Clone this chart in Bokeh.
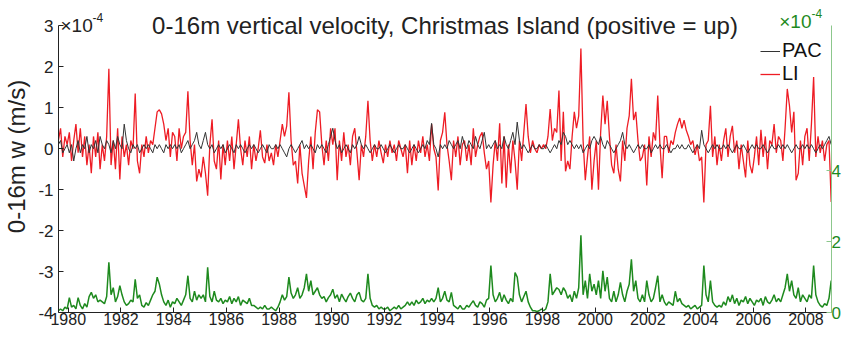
import numpy as np
from bokeh.plotting import figure
from bokeh.models import Range1d, LinearAxis, FixedTicker, Label, Legend
from bokeh.embed import file_html
from bokeh.resources import INLINE

# ---------------- data (monthly, Aug 1979 - Dec 2008), units 1e-4 m/s ----------------
START_YEAR = 1979
START_MONTH = 8

LI = [
    0.2, 0.5, -0.2, 0.3, 0.1,                                             # 1979 Aug-Dec
    0.4, -0.3, 0.2, 0.6, -0.1, 0.5, -0.2, 0.3, -0.4, 0.1, -0.6, 0.3,      # 1980
    -0.2, 0.4, -0.5, 0.1, -0.3, 0.3, 1.95, -0.4, 0.2, -0.5, 0.5, -0.75,   # 1981
    0.3, -0.2, 0.1, -0.4, 0.2, 0.0, 1.35, -0.3, -0.6, 0.1, -0.2, 0.3,     # 1982
    -0.1, 0.2, 0.1, 0.5, 0.9, 0.95, 0.85, 0.6, 0.2, 0.5, -0.2, 0.4,       # 1983
    0.3, -0.3, 0.5, 0.0, 0.3, 0.4, 1.4, 0.2, -0.4, 0.1, -0.8, -0.5,       # 1984
    -0.7, -0.2, -0.6, -1.15, 0.1, 0.72, -0.3, -0.5, 0.2, -0.75, 0.1, -0.4,  # 1985
    0.2, -0.3, 0.3, -0.5, 0.1, 0.72, 0.0, -0.4, 0.2, -0.2, 0.3, -0.5,     # 1986
    0.1, -0.3, 0.0, 0.45, -0.2, -0.35, 0.1, -0.3, -0.1, -0.4, 0.1, -0.2,  # 1987
    0.2, 0.6, 0.3, 0.55, 1.38, 0.2, -0.4, -0.3, -0.85, 0.1, -0.6, -0.9,   # 1988
    -1.2, -0.3, 0.3, -0.5, 0.4, 0.95, 0.9, 0.1, -0.4, 0.2, -0.3, 0.5,     # 1989
    0.1, 0.5, -0.77, 0.2, -0.3, 0.4, -0.2, 0.1, -0.4, 0.3, 0.5, -0.1,     # 1990
    -0.77, 0.1, -0.2, 0.3, 1.17, 0.2, -0.3, 0.1, -0.2, 0.2, -0.1, -0.35,  # 1991
    0.1, -0.2, 0.2, -0.1, 0.1, -0.3, 0.2, 0.0, -0.2, 0.1, -0.6, 0.2,      # 1992
    -0.4, 0.1, -0.3, 0.2, -0.1, 0.3, -0.2, 0.1, -0.3, 0.6, 0.0, -0.2,     # 1993
    -1.02, 0.2, 0.4, 0.89, 0.1, -0.3, -0.77, 0.2, -0.2, 0.3, -0.4, 0.1,   # 1994
    0.2, -0.3, 0.1, -0.4, 0.5, -0.2, 0.1, 0.3, 0.4, -0.1, -0.5, -0.3,     # 1995
    -1.31, -0.4, 0.2, -0.3, 0.62, -0.85, 0.3, -0.95, 0.1, -0.6, 0.2, -0.3,  # 1996
    -1.0, 0.2, -0.3, 0.4, 1.09, 0.3, -0.1, 0.2, 0.0, -0.1, 0.1, 0.0,      # 1997
    0.1, 0.0, 0.3, 0.97, 0.2, 0.5, 0.4, 1.42, -0.3, 0.9, -0.55, -0.3,     # 1998
    -0.5, 0.3, 0.9, 0.5, 0.8, 2.45, 0.2, -0.77, -0.2, 0.3, -1.0, -0.3,    # 1999
    0.2, -1.0, 0.4, 1.3, 0.6, 1.17, 0.3, -0.4, -0.6, 0.1, -0.5, -0.8,     # 2000
    0.2, -0.3, 0.5, 0.8, 1.71, 0.7, 0.9, 0.2, -0.3, -0.2, 0.1, -0.9,      # 2001
    0.3, -0.2, 0.4, 0.2, 1.3, 0.1, -0.72, 0.3, 0.3, -0.1, 0.2, 0.1,       # 2002
    0.4, 0.6, 0.75, 0.5, 0.7, 0.45, 0.3, 0.1, 0.2, -0.15, 0.1, -0.3,      # 2003
    -0.2, -1.31, 0.1, 0.2, 1.05, -0.2, 0.3, -0.4, 0.1, -0.3, 0.2, 0.5,    # 2004
    -0.2, 0.3, 0.56, -0.1, 0.2, -0.5, 0.1, -0.3, -0.7, 0.2, -0.4, -0.6,   # 2005
    -0.2, 0.3, -0.4, 0.46, -0.2, 0.3, -0.5, 0.2, 0.1, 0.6, -0.1, 0.3,     # 2006
    0.2, -0.3, 0.5, 1.46, 1.05, 0.4, 0.9, -0.77, -0.6, 0.2, -0.4, 0.3,    # 2007
    0.5, -0.3, 0.6, 1.75, -0.2, 0.3, -0.1, 0.2, -0.3, 0.1, 0.2, -1.3,     # 2008
]

PAC = [
    0.1, 0.2, -0.1, 0.0, 0.1,
    -0.1, 0.1, -0.3, 0.0, 0.2, -0.1, 0.1, 0.0, 0.3, -0.1, 0.1, 0.0,
    0.2, -0.1, 0.3, 0.1, 0.0, 0.2, 0.1, -0.1, 0.2, 0.0, 0.3, 0.1,
    0.0, 0.6, 0.2, 0.0, -0.1, 0.1, 0.0, 0.1, -0.1, 0.0, 0.1, 0.0,
    0.1, 0.0, -0.1, 0.1, 0.0, 0.1, 0.0, -0.1, 0.1, 0.0, 0.1, 0.0,
    0.1, 0.0, 0.1, -0.1, 0.0, 0.1, 0.2, 0.0, 0.1, 0.2, 0.4, 0.1,
    0.0, 0.2, 0.4, 0.1, 0.0, 0.1, -0.1, 0.0, 0.1, 0.0, 0.1, -0.1,
    0.0, 0.1, 0.0, -0.1, 0.1, 0.0, 0.1, 0.0, -0.1, 0.0, 0.1, 0.0,
    0.1, 0.0, -0.1, 0.0, 0.1, 0.0, -0.1, 0.1, 0.0, 0.0, 0.1, 0.0,
    0.1, 0.0, -0.1, -0.2, 0.0, 0.1, 0.0, -0.1, 0.0, 0.1, 0.2, 0.0,
    0.1, 0.0, 0.1, 0.0, -0.1, 0.1, 0.0, 0.1, 0.0, -0.1, 0.1, 0.3,
    0.5, 0.2, 0.0, 0.1, -0.1, 0.0, 0.1, 0.0, -0.1, 0.1, 0.0, 0.1,
    0.3, 0.1, 0.0, 0.1, 0.0, -0.1, 0.0, 0.1, 0.0, 0.0, 0.1, 0.0,
    -0.1, 0.0, 0.1, 0.0, -0.1, 0.0, 0.1, 0.0, 0.0, 0.1, 0.0, -0.1,
    0.0, 0.1, 0.0, -0.1, 0.0, 0.1, 0.0, 0.2, 0.1, 0.62, 0.1, 0.0,
    -0.2, 0.1, 0.0, 0.1, 0.0, 0.2, 0.1, 0.0, 0.1, 0.2, 0.0, 0.3,
    0.1, 0.0, 0.2, 0.1, 0.0, 0.3, 0.1, 0.0, 0.2, 0.4, 0.0, 0.1,
    0.0, 0.1, 0.2, 0.0, 0.1, 0.0, 0.3, 0.1, 0.0, 0.2, 0.4, 0.1,
    0.65, 0.2, 0.0, 0.1, 0.0, -0.1, 0.0, 0.1, 0.0, 0.0, 0.1, 0.0,
    0.0, 0.1, 0.0, -0.1, 0.0, 0.1, 0.0, 0.2, 0.1, 0.4, 0.3, 0.1,
    0.2, 0.1, 0.0, 0.1, 0.0, 0.1, -0.1, 0.0, 0.1, 0.0, 0.2, 0.3,
    0.2, 0.1, 0.3, 0.1, 0.0, 0.2, 0.1, 0.0, -0.1, 0.0, 0.1, 0.2,
    0.4, 0.1, 0.0, 0.1, 0.0, -0.1, 0.0, 0.1, 0.0, 0.1, 0.0, 0.0,
    0.1, -0.1, 0.0, 0.1, 0.0, 0.1, 0.0, 0.0, 0.1, 0.0, -0.1, 0.0,
    0.0, 0.1, 0.0, 0.1, 0.0, 0.0, 0.1, 0.0, -0.1, 0.0, 0.1, 0.0,
    0.45, 0.1, 0.0, -0.1, 0.0, 0.1, 0.0, 0.1, 0.0, 0.0, 0.1, 0.0,
    0.1, 0.0, -0.1, 0.0, 0.1, 0.0, 0.0, 0.1, 0.0, -0.1, 0.0, 0.1,
    0.0, 0.1, 0.0, 0.0, 0.1, 0.0, -0.1, 0.0, 0.1, 0.0, 0.0, 0.1,
    0.0, 0.1, 0.0, 0.1, 0.0, -0.1, 0.0, 0.1, 0.0, 0.0, 0.1, 0.0,
    0.1, 0.0, 0.1, 0.0, -0.1, 0.0, 0.1, 0.0, 0.1, 0.2, 0.3, 0.1,
]

# green series on right axis (units 1e-4)
GREEN = [
    0.05, 0.1, 0.05, 0.15, 0.1,
    0.42, 0.15, 0.2, 0.1, 0.42, 0.2, 0.1, 0.25, 0.15, 0.45, 0.57, 0.4,
    0.5, 0.3, 0.35, 0.3, 0.25, 0.45, 1.42, 0.5, 0.7, 0.3, 0.45, 0.76,
    0.5, 0.3, 0.2, 0.25, 0.35, 0.3, 0.94, 0.4, 0.5, 0.2, 0.15, 0.28,
    0.2, 0.35, 0.5, 0.6, 1.0, 0.8, 0.5, 0.3, 0.2, 0.35, 0.15, 0.3,
    0.25, 0.4, 0.3, 0.2, 0.35, 0.5, 1.04, 0.4, 0.3, 0.6, 0.35, 0.5,
    0.4, 0.5, 0.3, 1.28, 0.45, 0.3, 0.6, 0.35, 0.3, 0.4, 0.25, 0.35,
    0.3, 0.45, 0.25, 0.4, 0.3, 0.45, 0.2, 0.35, 0.3, 0.25, 0.4, 0.2,
    0.2, 0.15, 0.1, 0.15, 0.1, 0.2, 0.1, 0.1, 0.15, 0.1, 0.05, 0.15,
    0.3, 0.5, 0.35, 0.45, 1.0, 0.55, 0.4, 0.5, 0.7, 0.4, 0.5, 0.7,
    1.09, 0.6, 0.9, 0.5, 0.6, 0.7, 0.5, 0.4, 0.45, 0.3, 0.42, 0.5,
    0.66, 0.4, 0.5, 0.3, 0.52, 0.4, 0.3, 0.45, 0.55, 0.4, 0.3, 0.5,
    0.57, 0.35, 0.3, 0.4, 1.09, 0.4, 0.2, 0.15, 0.2, 0.1, 0.15, 0.1,
    0.1, 0.15, 0.05, 0.1, 0.15, 0.1, 0.2, 0.1, 0.15, 0.2, 0.3, 0.2,
    0.3, 0.2, 0.35, 0.25, 0.3, 0.4, 0.25, 0.35, 0.3, 0.4, 0.3, 0.4,
    0.7, 0.3, 0.4, 0.6, 0.35, 0.3, 0.57, 0.2, 0.15, 0.1, 0.2, 0.1,
    0.1, 0.2, 0.15, 0.25, 0.33, 0.2, 0.15, 0.3, 0.25, 0.15, 0.35, 0.4,
    1.33, 0.5, 0.3, 0.4, 0.57, 0.3, 0.5, 0.35, 0.25, 0.4, 0.3, 1.13,
    1.0, 0.5, 0.3, 0.45, 0.6, 0.3, 0.15, 0.05, 0.05, 0.03, 0.05, 0.1,
    0.05, 0.1, 0.3, 1.09, 0.5, 0.6, 0.7, 0.65, 0.5, 0.7, 0.6, 0.4,
    0.5, 0.3, 0.6, 0.4, 0.7, 2.18, 0.5, 0.9, 0.4, 1.09, 0.6, 0.8,
    0.5, 0.9, 0.4, 1.18, 0.6, 1.0, 0.4, 0.3, 0.6, 0.3, 0.5, 0.85,
    0.5, 0.3, 0.6, 0.8, 1.5, 0.6, 0.9, 0.4, 0.3, 0.5, 0.3, 0.9,
    0.5, 0.3, 0.4, 0.7, 1.04, 0.3, 0.5, 0.3, 0.2, 0.3, 0.25, 0.2,
    0.6, 0.3, 0.4, 0.25, 0.2, 0.15, 0.2, 0.1, 0.15, 0.2, 0.1, 0.15,
    0.2, 1.33, 0.5, 0.3, 0.9, 0.3, 0.2, 0.15, 0.2, 0.15, 0.3, 0.2,
    0.45, 0.3, 0.5, 0.25, 0.4, 0.2, 0.35, 0.3, 0.45, 0.25, 0.4, 0.3,
    0.2, 0.35, 0.3, 0.4, 0.2, 0.45, 0.3, 0.25, 0.35, 0.5, 0.3, 0.4,
    0.3, 0.5, 0.7, 1.09, 0.6, 0.9, 0.5, 0.4, 0.7, 0.3, 0.5, 0.4,
    0.3, 0.5, 0.4, 1.33, 0.5, 0.3, 0.2, 0.15, 0.25, 0.2, 0.4, 0.9,
]

YEAR_TICKS = [1980, 1982, 1984, 1986, 1988, 1990, 1992, 1994, 1996, 1998,
              2000, 2002, 2004, 2006, 2008]
LEFT_TICKS = [-4, -3, -2, -1, 0, 1, 2, 3]
RIGHT_TICKS = [0, 2, 4]

TITLE = "0-16m vertical velocity, Christmas Island (positive = up)"
YLABEL = "0-16m w (m/s)"

# ---------------- plot ----------------
FONT = "Liberation Sans"
GREEN_C = "#1e8a1e"
RED_C = "#ee1c24"
INK = "#222222"

n = len(LI)
t = START_YEAR + (START_MONTH - 0.5) / 12 + np.arange(n) / 12.0

X0, X1 = 1979.63, 2008.97
L_LO, L_HI = -4, 3          # left axis extent
R_LO, R_HI = 0, 8.1         # right axis extent
HEAD = 3.62                 # frame reaches above axis top to hold title text
R_HEAD = R_HI * (HEAD - L_LO) / (L_HI - L_LO)

p = figure(width=843, height=327, x_range=Range1d(X0, X1), y_range=Range1d(L_LO, HEAD),
           output_backend="svg", toolbar_location=None,
           min_border_left=0, min_border_right=0, min_border_top=0, min_border_bottom=0)
p.extra_y_ranges = {"g": Range1d(R_LO, R_HEAD)}

p.outline_line_color = None
p.xgrid.visible = False
p.ygrid.visible = False

r_li = p.line(t, LI, line_color=RED_C, line_width=1.3)
r_pac = p.line(t, PAC, line_color="#333333", line_width=1.0)
p.line(t, GREEN[:n], line_color=GREEN_C, line_width=1.5, y_range_name="g")

for ax in (p.xaxis[0], p.yaxis[0]):
    ax.major_label_text_font = FONT
    ax.major_label_text_color = INK
    ax.major_tick_in = 5
    ax.major_tick_out = 0
    ax.minor_tick_line_color = None
    ax.axis_line_color = INK
    ax.major_tick_line_color = INK

p.xaxis[0].ticker = FixedTicker(ticks=YEAR_TICKS)
p.xaxis[0].major_label_text_font_size = "16px"
p.xaxis[0].major_label_standoff = 0
p.xaxis[0].axis_label_standoff = 0
p.yaxis[0].ticker = FixedTicker(ticks=LEFT_TICKS)
p.yaxis[0].major_label_text_font_size = "17px"
p.yaxis[0].bounds = (L_LO, L_HI)
p.yaxis[0].major_label_overrides = {v: str(v) for v in LEFT_TICKS}
p.yaxis[0].major_label_standoff = 5
p.yaxis[0].axis_label = YLABEL
p.yaxis[0].axis_label_text_font = FONT
p.yaxis[0].axis_label_text_font_size = "24px"
p.yaxis[0].axis_label_text_font_style = "normal"
p.yaxis[0].axis_label_text_color = INK
p.yaxis[0].axis_label_standoff = 5

rax = LinearAxis(y_range_name="g", ticker=FixedTicker(ticks=RIGHT_TICKS), bounds=(R_LO, R_HI))
rax.major_label_text_font = FONT
rax.major_label_text_font_size = "17px"
rax.major_label_text_color = GREEN_C
rax.major_tick_in = 5
rax.major_tick_out = 0
rax.minor_tick_line_color = None
rax.axis_line_color = "#8cc78c"
rax.major_tick_line_color = "#8cc78c"
rax.major_label_standoff = 0
rax.axis_label_standoff = 0
p.add_layout(rax, "right")

# title
p.add_layout(Label(x=(X0 + X1) / 2, y=L_HI, y_offset=0, text=TITLE, text_font=FONT,
                   text_font_size="24px", text_color=INK, text_align="center",
                   text_baseline="alphabetic"))

# exponent labels
p.add_layout(Label(x=X0, y=L_HI, x_offset=2, y_offset=0, text="×10", text_font=FONT,
                   text_font_size="19px", text_color=INK, text_baseline="alphabetic"))
p.add_layout(Label(x=X0, y=L_HI, x_offset=34, y_offset=8, text="-4", text_font=FONT,
                   text_font_size="12px", text_color=INK, text_baseline="alphabetic"))
p.add_layout(Label(x=X1, y=R_HI, x_offset=-20, y_offset=4, text="×10", text_font=FONT,
                   text_font_size="19px", text_color=GREEN_C, text_baseline="alphabetic",
                   text_align="right", y_range_name="g"))
p.add_layout(Label(x=X1, y=R_HI, x_offset=-20, y_offset=12, text="-4", text_font=FONT,
                   text_font_size="12px", text_color=GREEN_C, text_baseline="alphabetic",
                   y_range_name="g"))

legend = Legend(items=[("PAC", [r_pac]), ("LI", [r_li])], location=(700, 225),
                label_text_font=FONT, label_text_font_size="20px", label_text_color="#111111",
                glyph_width=20, glyph_height=18, label_standoff=2, spacing=0,
                padding=2, margin=0, border_line_alpha=0, background_fill_alpha=0,
                label_height=18)
p.add_layout(legend)

open("out.html", "w").write(file_html(p, INLINE))
